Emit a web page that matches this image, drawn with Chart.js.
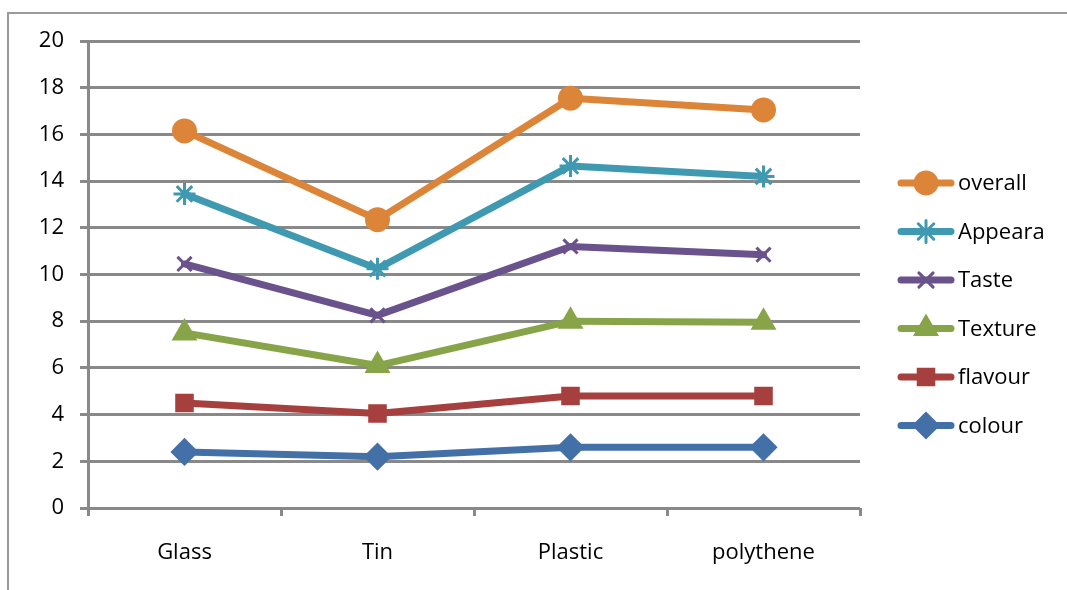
<!DOCTYPE html>
<html><head><meta charset="utf-8">
<script src="https://cdn.jsdelivr.net/npm/chart.js@4"></script>
<style>html,body{margin:0;padding:0;background:#fff}#wrap{width:1067px;height:590px;position:relative}</style>
</head><body><div id="wrap"><canvas id="c" width="1067" height="590"></canvas></div>
<script>
const categories = ["Glass", "Tin", "Plastic", "polythene"];
const overall = [16.15, 12.35, 17.55, 17.05];
const appeara = [13.45, 10.25, 14.65, 14.2];
const taste = [10.45, 8.25, 11.2, 10.85];
const texture = [7.5, 6.1, 8.0, 7.95];
const flavour = [4.5, 4.05, 4.8, 4.8];
const colour = [2.4, 2.2, 2.6, 2.6];
const yTicks = [0, 2, 4, 6, 8, 10, 12, 14, 16, 18, 20];

const FONT = "'Open Sans', Lato, sans-serif";
const FSIZE = 22;
const series = [
  {label: "overall", data: overall, color: "#DC8438", style: "circle", r: 11},
  {label: "Appeara", data: appeara, color: "#3E99B1", style: "star", r: 11},
  {label: "Taste", data: taste, color: "#6A528C", style: "crossRot", r: 10},
  {label: "Texture", data: texture, color: "#87A548", style: "triangle", r: 12},
  {label: "flavour", data: flavour, color: "#A6403E", style: "rect", r: 11},
  {label: "colour", data: colour, color: "#4470A8", style: "rectRot", r: 12}
];

const frame = {
  id: 'frame',
  beforeDraw(chart) {
    const ctx = chart.ctx;
    ctx.save();
    ctx.strokeStyle = '#9a9a9a';
    ctx.lineWidth = 2;
    ctx.strokeRect(8, 13, 1100, 700);
    ctx.restore();
  }
};

const legendPlugin = {
  id: 'customLegend',
  afterDraw(chart) {
    const ctx = chart.ctx;
    ctx.save();
    chart.data.datasets.forEach((ds, i) => {
      const y = 183 + i * 48.5;
      ctx.strokeStyle = ds.borderColor;
      ctx.lineWidth = 7;
      ctx.lineCap = 'round';
      ctx.beginPath(); ctx.moveTo(901, y); ctx.lineTo(951, y); ctx.stroke();
      ctx.fillStyle = ds.borderColor;
      ctx.strokeStyle = ds.borderColor;
      ctx.lineWidth = ds.pointBorderWidth;
      Chart.helpers.drawPoint(ctx, {pointStyle: ds.pointStyle, radius: ds.pointRadius, borderWidth: ds.pointBorderWidth}, 926, y);
      ctx.fillStyle = '#000';
      ctx.font = FSIZE + "px " + FONT;
      ctx.textAlign = 'left';
      ctx.textBaseline = 'middle';
      ctx.fillText(ds.label, 958, y + 1);
    });
    ctx.restore();
  }
};

new Chart(document.getElementById('c'), {
  type: 'line',
  data: {
    labels: categories,
    datasets: series.map(s => ({
      label: s.label, data: s.data,
      borderColor: s.color, backgroundColor: s.color,
      pointBackgroundColor: s.color, pointBorderColor: s.color,
      pointStyle: s.style, pointRadius: s.r, pointBorderWidth: 3,
      borderWidth: 7, tension: 0, borderCapStyle: 'round', borderJoinStyle: 'round'
    }))
  },
  options: {
    responsive: false, animation: false,
    layout: {padding: {left: 0, right: 207, top: 41, bottom: 0}},
    plugins: {legend: {display: false}, tooltip: {enabled: false}},
    scales: {
      x: {
        offset: true,
        grid: {offset: true, drawOnChartArea: false, color: '#898989', lineWidth: 3, tickLength: 8},
        border: {display: false},
        ticks: {color: '#000', font: {family: FONT, size: FSIZE}, padding: 24, maxRotation: 0},
        afterFit(s) { s.height = 82; }
      },
      y: {
        min: 0, max: 20,
        afterBuildTicks(s) { s.ticks = yTicks.map(v => ({value: v})); },
        grid: {color: '#898989', lineWidth: 3, tickLength: 8},
        border: {display: true, color: '#898989', width: 3},
        ticks: {color: '#000', font: {family: FONT, size: FSIZE}, padding: 16},
        afterFit(s) { s.width = 88; }
      }
    }
  },
  plugins: [frame, legendPlugin]
});
</script></body></html>
